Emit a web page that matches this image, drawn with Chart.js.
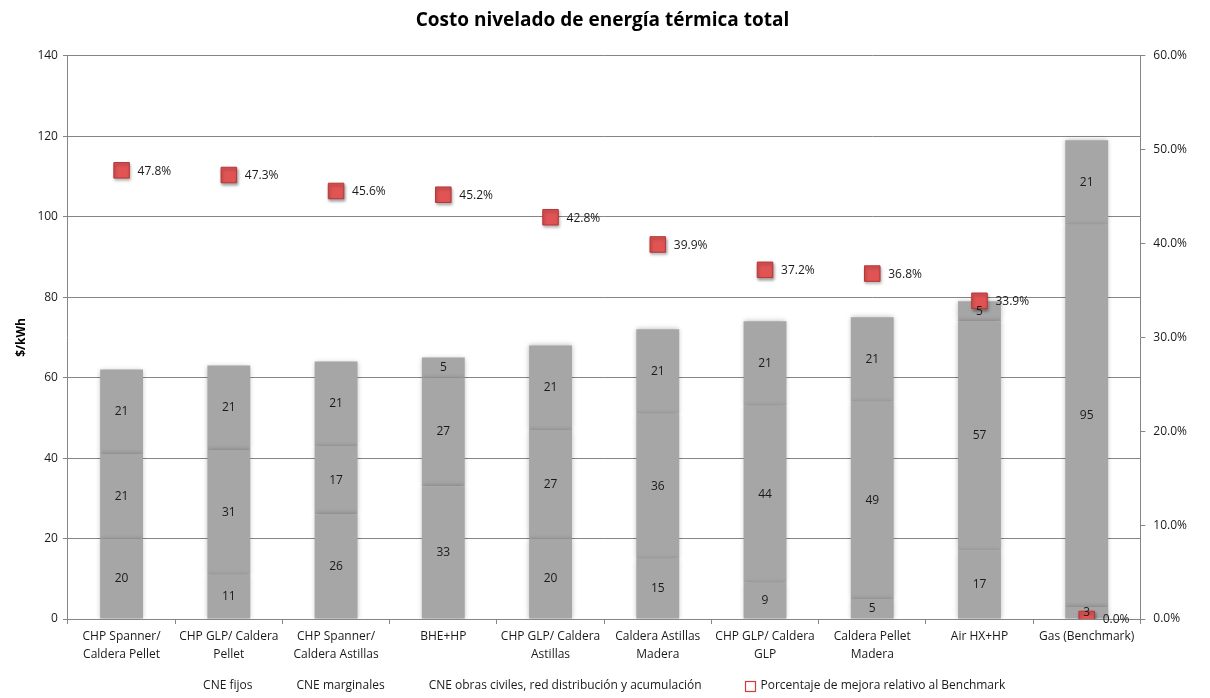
<!DOCTYPE html>
<html lang="es">
<head>
    <meta charset="utf-8">
    <title>Costo nivelado de energía térmica total</title>
    <script src="https://cdn.jsdelivr.net/npm/chart.js"></script>
    <style>
        body, html { margin: 0; padding: 0; background: #fff; }
        #wrap { width: 1210px; height: 698px; }
    </style>
</head>
<body>
    <div id="wrap"><canvas id="chart"></canvas></div>
    <script>
        // Alternativas comparadas
        const categories = [
            ['CHP Spanner/', 'Caldera Pellet'],
            ['CHP GLP/ Caldera', 'Pellet'],
            ['CHP Spanner/', 'Caldera Astillas'],
            'BHE+HP',
            ['CHP GLP/ Caldera', 'Astillas'],
            ['Caldera Astillas', 'Madera'],
            ['CHP GLP/ Caldera', 'GLP'],
            ['Caldera Pellet', 'Madera'],
            'Air HX+HP',
            'Gas (Benchmark)'
        ];

        // Componentes del costo ($/kWh)
        const cneFijos = [20, 11, 26, 33, 20, 15, 9, 5, 17, 3];
        const cneMarginales = [21, 31, 17, 27, 27, 36, 44, 49, 57, 95];
        const cneObras = [21, 21, 21, 5, 21, 21, 21, 21, 5, 21];

        // Mejora relativa al benchmark (%)
        const mejora = [47.8, 47.3, 45.6, 45.2, 42.8, 39.9, 37.2, 36.8, 33.9, 0.0];

        const seriesNames = [
            'CNE fijos',
            'CNE marginales',
            'CNE obras civiles, red distribución y acumulación',
            'Porcentaje de mejora relativo al Benchmark'
        ];

        const leftTicks = [0, 20, 40, 60, 80, 100, 120, 140];
        const rightTicks = [0, 10, 20, 30, 40, 50, 60];

        const FONT = '"Open Sans", sans-serif';
        Chart.defaults.font.family = FONT;
        Chart.defaults.color = '#1a1a1a';

        const barGray = '#a6a6a6';
        const lineGray = '#858585';

        // soft shadow around bars and markers
        const shadowPlugin = {
            id: 'shadow',
            beforeDatasetDraw(chart, args) {
                const ctx = chart.ctx;
                ctx.save();
                if (args.meta.type === 'bar') {
                    ctx.shadowColor = 'rgba(0,0,0,0.28)';
                    ctx.shadowBlur = 5;
                } else {
                    ctx.shadowColor = 'rgba(0,0,0,0.35)';
                    ctx.shadowBlur = 3;
                    ctx.shadowOffsetX = 1;
                    ctx.shadowOffsetY = 2;
                }
            },
            afterDatasetDraw(chart) {
                chart.ctx.restore();
            }
        };

        // value labels: centred in each bar segment, to the right of each marker
        const valueLabels = {
            id: 'valueLabels',
            afterDatasetsDraw(chart) {
                const ctx = chart.ctx;
                ctx.save();
                ctx.fillStyle = '#1a1a1a';
                ctx.textBaseline = 'middle';
                ctx.font = '12px ' + FONT;
                chart.data.datasets.forEach((ds, di) => {
                    const meta = chart.getDatasetMeta(di);
                    meta.data.forEach((el, i) => {
                        const v = ds.data[i];
                        if (meta.type === 'bar') {
                            ctx.textAlign = 'center';
                            ctx.fillText(String(v), el.x, (el.y + el.base) / 2);
                        } else {
                            ctx.textAlign = 'left';
                            ctx.fillText(v.toFixed(1) + '%', el.x + 16, el.y + 1);
                        }
                    });
                });
                ctx.restore();
            }
        };

        // legend row under the category labels
        const bottomLegend = {
            id: 'bottomLegend',
            afterDraw(chart) {
                const ctx = chart.ctx;
                const gap = 44, sw = 10, swGap = 5;
                ctx.save();
                ctx.font = '12px ' + FONT;
                ctx.textBaseline = 'middle';
                ctx.textAlign = 'left';
                const widths = seriesNames.map(t => ctx.measureText(t).width);
                const total = widths.reduce((a, b) => a + b, 0) + gap * 3 + sw + swGap;
                const ca = chart.chartArea;
                let x = (ca.left + ca.right) / 2 - total / 2;
                const y = 686;
                seriesNames.forEach((t, i) => {
                    if (i === 3) {
                        const bx = Math.round(x) + 0.5;
                        ctx.fillStyle = '#fff';
                        ctx.strokeStyle = '#d23c3c';
                        ctx.lineWidth = 1.2;
                        ctx.fillRect(bx, y - 4.5, sw, sw);
                        ctx.strokeRect(bx, y - 4.5, sw, sw);
                        x += sw + swGap;
                    }
                    ctx.fillStyle = '#1a1a1a';
                    ctx.fillText(t, x, y);
                    x += widths[i] + gap;
                });
                ctx.restore();
            }
        };

        const ctx = document.getElementById('chart').getContext('2d');
        new Chart(ctx, {
            data: {
                labels: categories,
                datasets: [
                    {
                        type: 'line',
                        label: seriesNames[3],
                        data: mejora,
                        yAxisID: 'y1',
                        showLine: false,
                        pointStyle: 'rect',
                        pointRadius: 11,
                        pointBackgroundColor: '#e05454',
                        pointBorderColor: '#b73636',
                        pointBorderWidth: 1,
                        order: 0
                    },
                    { type: 'bar', label: seriesNames[0], data: cneFijos, backgroundColor: barGray, stack: 's', order: 1 },
                    { type: 'bar', label: seriesNames[1], data: cneMarginales, backgroundColor: barGray, stack: 's', order: 1 },
                    { type: 'bar', label: seriesNames[2], data: cneObras, backgroundColor: barGray, stack: 's', order: 1 }
                ]
            },
            options: {
                responsive: true,
                maintainAspectRatio: false,
                animation: false,
                layout: { padding: { left: 10, right: 15, top: 0, bottom: 30 } },
                datasets: {
                    bar: { barPercentage: 0.4, categoryPercentage: 1.0 }
                },
                plugins: {
                    title: {
                        display: true,
                        text: 'Costo nivelado de energía térmica total',
                        color: '#000',
                        font: { size: 19, weight: 'bold' },
                        padding: { top: 9, bottom: 24 }
                    },
                    tooltip: { enabled: false },
                    legend: { display: false }
                },
                scales: {
                    x: {
                        stacked: true,
                        grid: { drawOnChartArea: false, offset: true, tickLength: 5, color: lineGray },
                        border: { color: lineGray },
                        ticks: { maxRotation: 0, autoSkip: false, padding: 4, font: { size: 12, lineHeight: 1.5 }, color: '#1a1a1a' }
                    },
                    y: {
                        stacked: true,
                        position: 'left',
                        min: leftTicks[0],
                        max: leftTicks[leftTicks.length - 1],
                        afterBuildTicks(axis) { axis.ticks = leftTicks.map(v => ({ value: v })); },
                        grid: { color: lineGray, tickLength: 5 },
                        border: { color: lineGray },
                        ticks: { font: { size: 12 }, color: '#1a1a1a', padding: 5 },
                        title: { display: true, text: '$/kWh', color: '#000', font: { size: 12, weight: 'bold' } }
                    },
                    y1: {
                        position: 'right',
                        min: rightTicks[0],
                        max: rightTicks[rightTicks.length - 1],
                        afterBuildTicks(axis) { axis.ticks = rightTicks.map(v => ({ value: v })); },
                        grid: { drawOnChartArea: false, color: lineGray, tickLength: 5 },
                        border: { color: lineGray },
                        ticks: { font: { size: 12 }, color: '#1a1a1a', padding: 8, callback: v => v.toFixed(1) + '%' }
                    }
                }
            },
            plugins: [shadowPlugin, valueLabels, bottomLegend]
        });
    </script>
</body>
</html>
